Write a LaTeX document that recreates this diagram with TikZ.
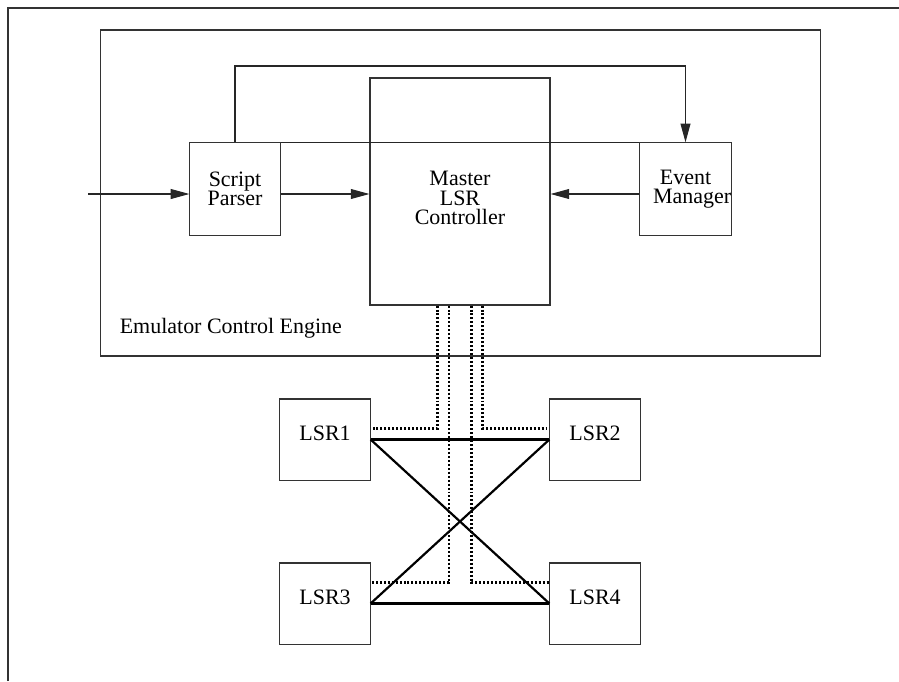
\documentclass[tikz,border=0pt]{standalone}
\usepackage{fontspec}
\setmainfont{Liberation Serif}
\usepackage{tikz}
\usetikzlibrary{arrows.meta, positioning, calc}

\tikzset{
  box/.style={draw=black!80, line width=0.5pt, inner sep=0pt},
  lsrbox/.style={box, minimum width=41pt, minimum height=36.9pt, text depth=6pt},
  flow/.style={line width=0.5pt, draw=black!85, -{Triangle[length=8.5pt, width=4.5pt]}},
  ctrl/.style={line width=1.1pt, dash pattern=on 0.9pt off 0.9pt},
  link/.style={line width=1pt}
}

\begin{document}
\begin{tikzpicture}[x=0.455pt, y=-0.455pt, font=\fontsize{10}{8.9}\selectfont]
  \useasboundingbox (0,0) rectangle (899,681);

  % Frame
  \draw[black!80, line width=0.5pt] (8,681) -- (8,8) -- (899,8);

  % Control engine
  \node[box, minimum width=328pt, minimum height=148.3pt] (engine) at (460.5,193) {};
  \node[anchor=west] (enginelbl) at (112,328) {Emulator Control Engine};

  \node[box, minimum width=81.9pt, minimum height=103.3pt] (master) at (460,191.5) {};
  \node[align=center] (masterlbl) at (460,198) {Master\\LSR\\Controller};

  \node[box, minimum width=41pt, minimum height=42pt, align=center] (parser) at (235,189) {Script\\Parser};
  \node[box, minimum width=41pt, minimum height=42pt, align=center] (event) at (685.5,189) {Event\\\hspace*{6pt}Manager};

  % Arrows
  \coordinate (input) at (88,194);
  \coordinate (fb) at (460,66);
  \draw[flow] (input) -- (input -| parser.west);
  \draw[flow] (parser.east |- input) -- (input -| master.west);
  \draw[flow] (event.west |- input) -- (input -| master.east);
  \draw[flow] (parser.north) -- (parser.north |- fb) -| (event.north);
  \draw[line width=0.5pt, black!85] (parser.north east) -- (event.north west);

  % LSRs
  \node[lsrbox] (lsr1) at (325,439.5) {LSR1};
  \node[lsrbox] (lsr2) at (595,439.5) {LSR2};
  \node[lsrbox] (lsr3) at (325,603.5) {LSR3};
  \node[lsrbox] (lsr4) at (595,603.5) {LSR4};

  % Control lines
  \draw[ctrl] ($(master.south)+(-22.5,0)$) |- ($(lsr1.east)+(0,-11)$);
  \draw[ctrl] ($(master.south)+(22.5,0)$) |- ($(lsr2.west)+(0,-11)$);
  \draw[ctrl] ($(master.south)+(-11,0)$) |- ($(lsr3.east)+(0,-21)$);
  \draw[ctrl] ($(master.south)+(11.5,0)$) |- ($(lsr4.west)+(0,-21)$);

  % Links
  \draw[link] (lsr1.east) -- (lsr2.west);
  \draw[link] (lsr3.east) -- (lsr4.west);
  \draw[link] (lsr1.east) -- (lsr4.west);
  \draw[link] (lsr2.west) -- (lsr3.east);
\end{tikzpicture}
\end{document}
